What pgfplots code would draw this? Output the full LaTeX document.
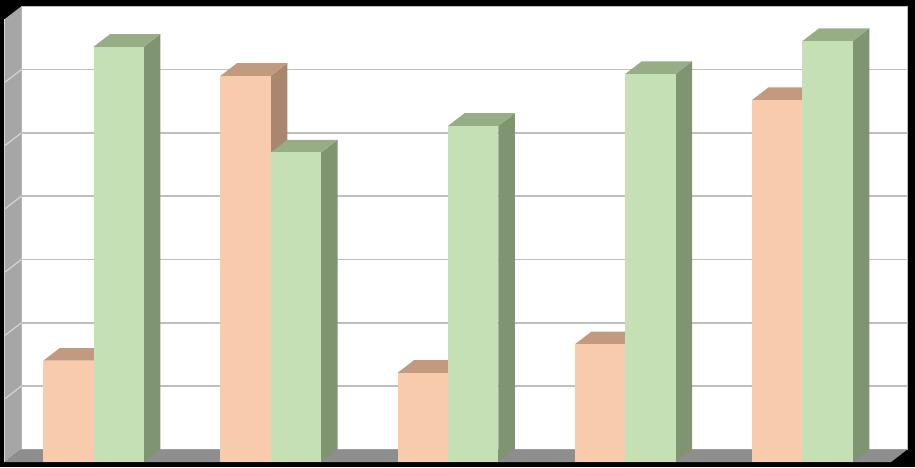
\documentclass[border=0pt]{standalone}
\usepackage{pgfplots}
\usepackage{pgfplotstable}
\pgfplotsset{compat=1.18}

\definecolor{peachfront}{HTML}{F8CBAD}
\definecolor{peachtop}{HTML}{C29A80}
\definecolor{peachside}{HTML}{A9866E}
\definecolor{greenfront}{HTML}{C5E0B4}
\definecolor{greentop}{HTML}{97AD86}
\definecolor{greenside}{HTML}{7F9572}
\definecolor{wallgray}{HTML}{A6A6A6}
\definecolor{wallline}{HTML}{D4D4D4}
\definecolor{floorgray}{HTML}{8E8E8E}
\definecolor{gridgray}{HTML}{BFBFBF}

% bar heights, read on the front plane
\pgfplotstableread{
cat peach green
0 1.60 6.56
1 6.10 4.89
2 1.41 5.31
3 1.86 6.13
4 5.72 6.65
}\barvalues

\newcommand\bw{0.284}  % bar width
\newcommand\dx{0.093}  % depth, x units
\newcommand\dy{0.2}    % depth, y units

% one column: side, top, front (in that order)
\newcommand\drawcolumn[3]{%
  \pgfmathsetmacro\xa{#1}%
  \pgfmathsetmacro\xb{#1+\bw}%
  \pgfmathsetmacro\xc{#1+\dx}%
  \pgfmathsetmacro\xd{#1+\bw+\dx}%
  \pgfmathsetmacro\yb{#2}%
  \pgfmathsetmacro\yt{#2+\dy}%
  \edef\doplots{%
    \noexpand\addplot[fill=#3side, draw=none] coordinates {(\xb,0) (\xd,\dy) (\xd,\yt) (\xb,\yb)} -- cycle;
    \noexpand\addplot[fill=#3top, draw=none] coordinates {(\xa,\yb) (\xb,\yb) (\xd,\yt) (\xc,\yt)} -- cycle;
    \noexpand\addplot[fill=#3front, draw=none] coordinates {(\xa,0) (\xb,0) (\xb,\yb) (\xa,\yb)} -- cycle;
  }\doplots
}

\begin{document}
\begin{tikzpicture}
\begin{axis}[
  scale only axis,
  width=457.5pt,
  height=233.5pt,
  xmin=-0.528, xmax=4.635,
  ymin=-0.079, ymax=7.299,
  xtick=\empty, ytick=\empty,
  axis line style={draw=none},
  axis background/.style={fill=black},
]
  % back wall
  \addplot[fill=white, draw=gridgray, line width=0.5pt]
    coordinates {(-0.407,0.2) (4.593,0.2) (4.593,7.2) (-0.407,7.2)} -- cycle;
  \pgfplotsforeachungrouped \k in {1,...,6}{%
    \pgfmathsetmacro\yk{\k+0.2}%
    \edef\doline{\noexpand\addplot[gridgray, line width=0.8pt] coordinates {(-0.407,\yk) (4.593,\yk)};}\doline
  }
  % left wall
  \addplot[fill=wallgray, draw=none]
    coordinates {(-0.5,0) (-0.407,0.2) (-0.407,7.2) (-0.5,7.0)} -- cycle;
  \pgfplotsforeachungrouped \k in {1,...,6}{%
    \pgfmathsetmacro\yk{\k+0.2}%
    \edef\doline{\noexpand\addplot[wallline, line width=0.6pt] coordinates {(-0.5,\k) (-0.407,\yk)};}\doline
  }
  \addplot[wallline, line width=0.5pt] coordinates {(-0.5,0) (-0.5,7.0)};
  % floor
  \addplot[fill=floorgray, draw=none]
    coordinates {(-0.5,0) (4.5,0) (4.593,0.2) (-0.407,0.2)} -- cycle;
  % columns, left to right
  \pgfplotsforeachungrouped \i in {0,...,4}{%
    \pgfplotstablegetelem{\i}{peach}\of\barvalues \let\vp\pgfplotsretval
    \pgfplotstablegetelem{\i}{green}\of\barvalues \let\vg\pgfplotsretval
    \drawcolumn{\i-\bw}{\vp}{peach}%
    \drawcolumn{\i}{\vg}{green}%
  }
\end{axis}
\end{tikzpicture}
\end{document}
